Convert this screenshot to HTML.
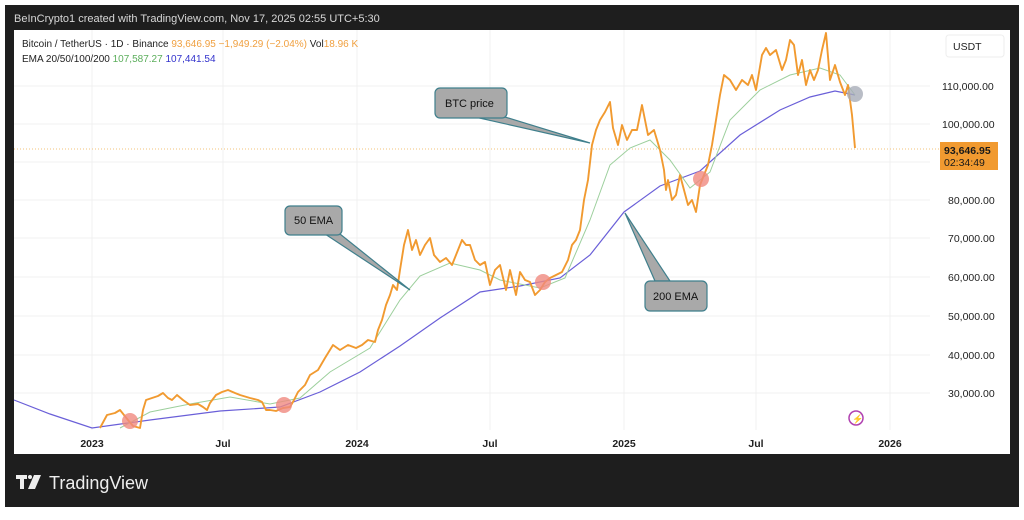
<!DOCTYPE html>
<html><head><meta charset="utf-8"><style>
body{margin:0;background:#fff;width:1024px;height:515px;overflow:hidden;font-family:"Liberation Sans",sans-serif}
</style></head><body>
<svg width="1024" height="515" xmlns="http://www.w3.org/2000/svg" font-family="Liberation Sans, sans-serif">
<rect x="5" y="5" width="1014" height="502" fill="#1e1e1e"/>
<text x="14" y="22" font-size="11" fill="#d8d8d8">BeInCrypto1 created with TradingView.com, Nov 17, 2025 02:55 UTC+5:30</text>
<rect x="14" y="30" width="996" height="424" fill="#fff"/>
<g stroke="#f0f0f0" stroke-width="1">
<line x1="92" y1="30" x2="92" y2="430"/><line x1="223" y1="30" x2="223" y2="430"/><line x1="357" y1="30" x2="357" y2="430"/><line x1="490" y1="30" x2="490" y2="430"/><line x1="624" y1="30" x2="624" y2="430"/><line x1="756" y1="30" x2="756" y2="430"/><line x1="890" y1="30" x2="890" y2="430"/>
<line x1="14" y1="86" x2="930" y2="86"/><line x1="14" y1="124" x2="930" y2="124"/><line x1="14" y1="162" x2="930" y2="162"/><line x1="14" y1="200" x2="930" y2="200"/><line x1="14" y1="238" x2="930" y2="238"/><line x1="14" y1="277" x2="930" y2="277"/><line x1="14" y1="316" x2="930" y2="316"/><line x1="14" y1="355" x2="930" y2="355"/><line x1="14" y1="393" x2="930" y2="393"/>
</g>
<line x1="14" y1="149" x2="940" y2="149" stroke="#f3c37a" stroke-width="1" stroke-dasharray="1,2"/>
<text x="22" y="47" font-size="10" fill="#222">Bitcoin / TetherUS · 1D · Binance <tspan fill="#f0a040">93,646.95  −1,949.29 (−2.04%)</tspan> Vol<tspan fill="#f0a040">18.96 K</tspan></text>
<text x="22" y="62" font-size="10" fill="#222">EMA 20/50/100/200 <tspan fill="#5cae5c">107,587.27</tspan>  <tspan fill="#3333cc">107,441.54</tspan></text>
<polyline fill="none" stroke="#6a5fd8" stroke-width="1.2" points="14,400 50,414 92,428 150,420 220,411 280,407 320,392 360,372 400,346 440,318 480,292 520,286 560,278 590,255 624,212 660,186 700,171 740,135 780,110 810,97 835,91 855,95"/>
<polyline fill="none" stroke="#9ccf9c" stroke-width="1" points="120,428 150,412 190,404 230,397 270,404 300,398 330,372 370,348 400,300 420,276 450,263 480,270 500,280 540,288 565,278 590,220 610,165 630,148 650,140 670,160 690,188 710,172 730,120 760,90 790,75 820,68 840,75 855,95"/>
<polyline fill="none" stroke="#f19a30" stroke-width="1.9" stroke-linejoin="round" points="100,428 107,415 115,413 120,410 128,420 133,426 140,428 143,410 146,400 152,398 158,396 163,393 168,398 172,400 177,395 183,400 190,405 198,404 203,407 207,410 210,403 216,395 222,392 228,390 235,393 240,395 250,398 258,400 262,402 266,410 270,410 276,411 283,408 290,407 294,400 298,392 305,385 310,375 318,370 325,358 333,345 340,350 348,345 356,348 362,345 368,340 375,342 378,330 382,320 386,305 390,295 393,285 397,290 400,270 404,245 408,230 412,250 416,240 420,255 425,245 430,238 434,255 440,262 446,258 452,265 458,250 462,240 466,245 470,245 475,260 480,265 485,262 490,285 495,270 500,265 506,290 510,270 516,295 520,272 525,280 530,282 535,295 540,290 545,282 550,278 556,275 562,272 568,260 572,245 576,240 580,230 584,200 588,180 592,145 596,130 600,120 605,112 610,102 613,128 618,145 622,125 627,140 632,130 637,130 642,105 648,135 654,130 660,150 664,170 666,190 668,180 672,200 676,195 680,175 684,190 688,205 692,200 696,212 700,185 704,175 708,165 712,145 716,120 720,95 724,75 730,80 736,90 742,80 748,85 752,75 756,90 762,55 766,48 770,55 776,50 782,70 786,60 790,40 794,45 798,75 802,60 806,85 810,70 814,80 818,70 822,50 826,33 830,80 835,65 840,82 845,95 848,85 852,115 855,148"/>
<g fill="#f08a80" opacity="0.8"><circle cx="130" cy="421" r="8"/><circle cx="284" cy="405" r="8"/><circle cx="543" cy="282" r="8"/><circle cx="701" cy="179" r="8"/></g>
<circle cx="855" cy="94" r="8" fill="#a8adb8" opacity="0.8"/>
<g fill="#a9a9a9" stroke="#3f7f8c" stroke-width="1.2">
<polygon points="475,117 505,117 590,143"/>
<rect x="435" y="88" width="72" height="30" rx="5"/>
<polygon points="325,234 340,234 410,290"/>
<rect x="285" y="206" width="57" height="29" rx="5"/>
<polygon points="655,281 670,281 625,213"/>
<rect x="645" y="281" width="62" height="30" rx="5"/>
</g>
<g font-size="11" fill="#111"><text x="445" y="107">BTC price</text><text x="294" y="224">50 EMA</text><text x="653" y="300">200 EMA</text></g>
<rect x="946" y="35" width="58" height="22" rx="3" fill="#fff" stroke="#eee"/>
<text x="953" y="50" font-size="10.5" fill="#222">USDT</text>
<g font-size="10.5" fill="#222">
<text x="942" y="90">110,000.00</text><text x="942" y="128">100,000.00</text><text x="948" y="204">80,000.00</text><text x="948" y="242">70,000.00</text><text x="948" y="281">60,000.00</text><text x="948" y="320">50,000.00</text><text x="948" y="359">40,000.00</text><text x="948" y="397">30,000.00</text>
</g>
<rect x="940" y="142" width="58" height="28" fill="#f19a30"/>
<text x="944" y="154" font-size="10.5" fill="#1a1a1a" font-weight="bold">93,646.95</text>
<text x="944" y="166" font-size="10.5" fill="#1a1a1a">02:34:49</text>
<g font-size="10.5" fill="#222" font-weight="bold" text-anchor="middle">
<text x="92" y="447">2023</text><text x="223" y="447">Jul</text><text x="357" y="447">2024</text><text x="490" y="447">Jul</text><text x="624" y="447">2025</text><text x="756" y="447">Jul</text><text x="890" y="447">2026</text>
</g>
<circle cx="856" cy="418" r="7" fill="none" stroke="#b040b0" stroke-width="1.5"/>
<text x="852" y="422" font-size="9" fill="#b040b0">⚡</text>
<rect x="16" y="475" width="11" height="4" fill="#eee"/><rect x="20" y="475" width="4" height="14" fill="#eee"/><circle cx="30" cy="477" r="2" fill="#eee"/><polygon points="34,475 41,475 35,489 28,489" fill="#eee"/>
<text x="49" y="489" font-size="18" fill="#eee">TradingView</text>
</svg>
</body></html>
